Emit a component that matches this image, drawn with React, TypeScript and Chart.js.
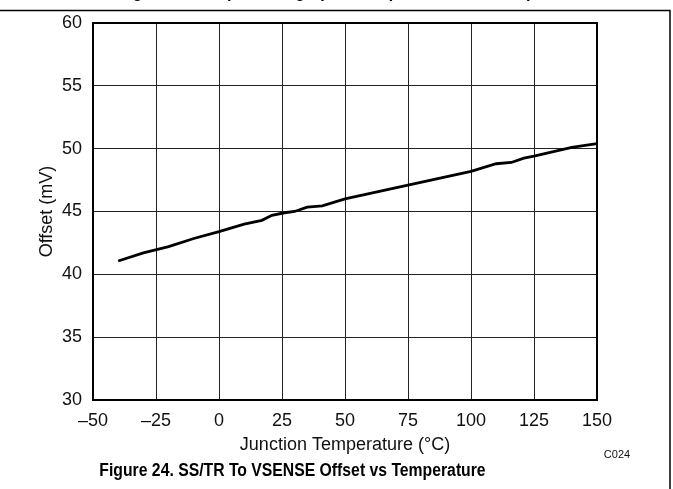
import React, { useEffect, useRef } from "react";
import { Chart, registerables } from "chart.js";

Chart.register(...registerables);

const temperatures = [-40, -30, -20, -10, 0, 10, 17, 21, 26, 30, 35, 41, 50, 75, 100, 110, 116, 121, 125, 140, 150];
const offsets = [41.06, 41.7, 42.2, 42.85, 43.4, 44.0, 44.3, 44.7, 44.9, 45.0, 45.35, 45.45, 46.0, 47.1, 48.2, 48.8, 48.9, 49.25, 49.4, 50.1, 50.4];
const xTickValues = [-50, -25, 0, 25, 50, 75, 100, 125, 150];
const xTickLabels = ["\u201350", "\u201325", "0", "25", "50", "75", "100", "125", "150"];
const yTickValues = [30, 35, 40, 45, 50, 55, 60];
const yTickLabels = ["30", "35", "40", "45", "50", "55", "60"];

const FONT = "'Liberation Sans', Arial, sans-serif";

function condensedText(ctx: CanvasRenderingContext2D, text: string, x: number, y: number, sx: number) {
  ctx.save();
  ctx.translate(x, y);
  ctx.scale(sx, 1);
  ctx.fillText(text, 0, 0);
  ctx.restore();
}

const decorPlugin = {
  id: "decor",
  afterDraw(chart: any) {
    const ctx = chart.ctx as CanvasRenderingContext2D;
    const { left, top, right, bottom } = chart.chartArea;
    ctx.save();
    // plot frame
    ctx.strokeStyle = "#000";
    ctx.lineWidth = 2;
    ctx.strokeRect(left, top, right - left, bottom - top);
    // page frame
    ctx.lineWidth = 1.5;
    ctx.beginPath();
    ctx.moveTo(0, 10.5);
    ctx.lineTo(670, 10.5);
    ctx.lineTo(670, 489);
    ctx.stroke();
    ctx.fillStyle = "#000";
    // clipped previous figure caption
    ctx.save();
    ctx.beginPath();
    ctx.rect(0, 0, 673, 9);
    ctx.clip();
    ctx.font = `bold 18px ${FONT}`;
    ctx.textAlign = "left";
    ctx.textBaseline = "alphabetic";
    condensedText(ctx, "Figure 23. Output Voltage (VSENSE) vs Junction Temperature", 118, -3, 0.9);
    ctx.restore();
    // axis titles
    ctx.font = `18px ${FONT}`;
    ctx.textAlign = "center";
    ctx.textBaseline = "middle";
    ctx.fillStyle = "#111";
    ctx.fillText("Junction Temperature (\u00B0C)", (left + right) / 2, 445);
    ctx.save();
    ctx.translate(47, (top + bottom) / 2);
    ctx.rotate(-Math.PI / 2);
    ctx.fillText("Offset (mV)", 0, 0);
    ctx.restore();
    ctx.font = `11px ${FONT}`;
    ctx.fillText("C024", 617, 455);
    ctx.fillStyle = "#000";
    ctx.font = `bold 18px ${FONT}`;
    condensedText(ctx, "Figure 24. SS/TR To VSENSE Offset vs Temperature", 292.5, 471, 0.875);
    ctx.restore();
  },
};

export default function App() {
  const ref = useRef<HTMLCanvasElement>(null);
  useEffect(() => {
    document.body.style.margin = "0";
    const chart = new Chart(ref.current!, {
      type: "line",
      data: {
        datasets: [
          {
            data: temperatures.map((t, i) => ({ x: t, y: offsets[i] })),
            borderColor: "#000",
            borderWidth: 2.8,
            pointRadius: 0,
            tension: 0,
            fill: false,
          },
        ],
      },
      options: {
        animation: false,
        responsive: false,
        layout: { padding: { left: 0, top: 23, right: 76, bottom: 49 } },
        plugins: { legend: { display: false }, tooltip: { enabled: false } },
        scales: {
          x: {
            type: "linear",
            min: -50,
            max: 150,
            afterFit(scale: any) {
              scale.height = 40;
            },
            afterBuildTicks(scale: any) {
              scale.ticks = xTickValues.map((v) => ({ value: v }));
            },
            ticks: {
              padding: 10,
              color: "#111",
              font: { family: FONT, size: 18 },
              maxRotation: 0,
              autoSkip: false,
              callback: (v: any) => xTickLabels[xTickValues.indexOf(Number(v))] ?? "",
            },
            grid: { color: "#222", lineWidth: 1, drawTicks: false },
            border: { display: false },
          },
          y: {
            type: "linear",
            min: 30,
            max: 60,
            afterFit(scale: any) {
              scale.width = 93;
            },
            afterBuildTicks(scale: any) {
              scale.ticks = yTickValues.map((v) => ({ value: v }));
            },
            ticks: {
              padding: 11,
              color: "#111",
              font: { family: FONT, size: 18 },
              autoSkip: false,
              callback: (v: any) => yTickLabels[yTickValues.indexOf(Number(v))] ?? "",
            },
            grid: { color: "#222", lineWidth: 1, drawTicks: false },
            border: { display: false },
          },
        },
      },
      plugins: [decorPlugin],
    });
    return () => chart.destroy();
  }, []);
  return <canvas ref={ref} width={673} height={489} style={{ display: "block" }} />;
}
